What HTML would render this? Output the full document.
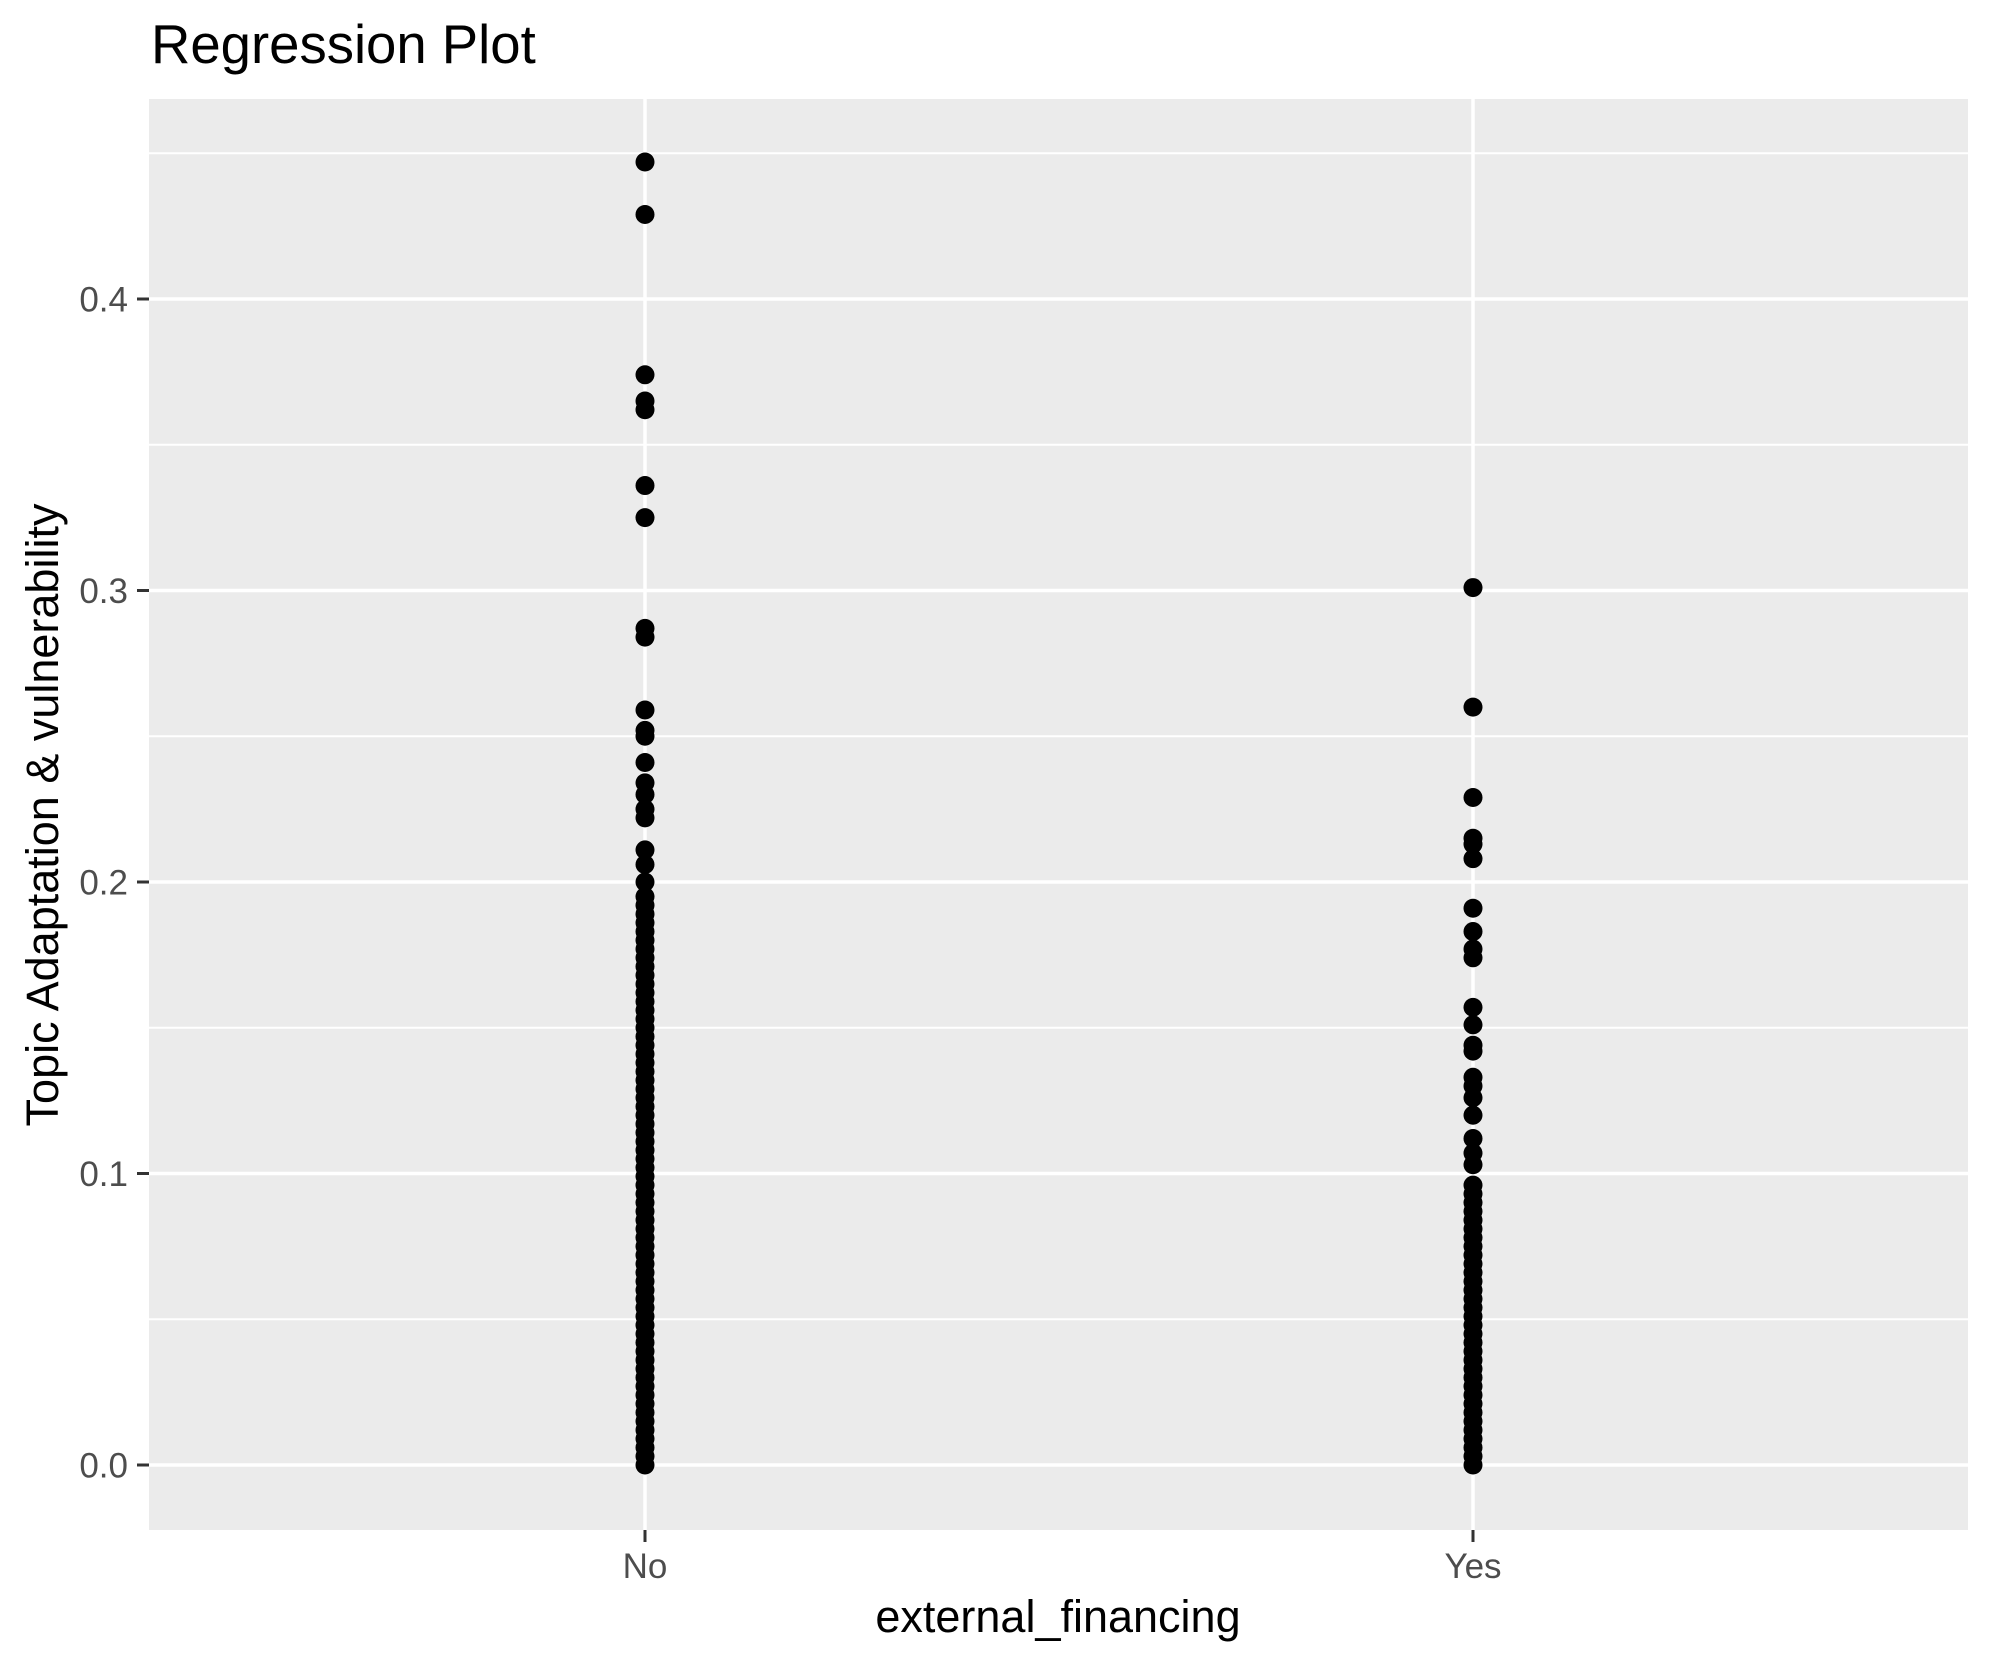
<!DOCTYPE html>
<html><head><meta charset="utf-8"><style>body{margin:0;background:#fff}svg{display:block}</style></head>
<body>
<svg id="s" width="1990" height="1665" xmlns="http://www.w3.org/2000/svg" font-family="Liberation Sans, sans-serif">
<rect x="0" y="0" width="1990" height="1665" fill="#fff"/>
<text x="151" y="63" font-size="54.5" fill="#000">Regression Plot</text>
<rect x="149" y="99" width="1819" height="1431" fill="#ebebeb"/>
<g stroke="#fff" stroke-width="2">
<line x1="149" x2="1968" y1="1319.25" y2="1319.25"/>
<line x1="149" x2="1968" y1="1027.75" y2="1027.75"/>
<line x1="149" x2="1968" y1="736.25" y2="736.25"/>
<line x1="149" x2="1968" y1="444.75" y2="444.75"/>
<line x1="149" x2="1968" y1="153.25" y2="153.25"/>
</g>
<g stroke="#fff" stroke-width="3.5">
<line x1="149" x2="1968" y1="1465" y2="1465"/>
<line x1="149" x2="1968" y1="1173.5" y2="1173.5"/>
<line x1="149" x2="1968" y1="882" y2="882"/>
<line x1="149" x2="1968" y1="590.5" y2="590.5"/>
<line x1="149" x2="1968" y1="299" y2="299"/>
<line x1="645" x2="645" y1="99" y2="1530"/>
<line x1="1473" x2="1473" y1="99" y2="1530"/>
</g>
<g stroke="#333" stroke-width="3">
<line x1="137" x2="149" y1="1465" y2="1465"/>
<line x1="137" x2="149" y1="1173.5" y2="1173.5"/>
<line x1="137" x2="149" y1="882" y2="882"/>
<line x1="137" x2="149" y1="590.5" y2="590.5"/>
<line x1="137" x2="149" y1="299" y2="299"/>
<line x1="645" x2="645" y1="1530" y2="1542"/>
<line x1="1473" x2="1473" y1="1530" y2="1542"/>
</g>
<g font-size="35" fill="#4d4d4d" text-anchor="end">
<text x="128" y="1477.5">0.0</text>
<text x="128" y="1186">0.1</text>
<text x="128" y="894.5">0.2</text>
<text x="128" y="603">0.3</text>
<text x="128" y="311.5">0.4</text>
</g>
<g font-size="35" fill="#4d4d4d" text-anchor="middle">
<text x="645" y="1578">No</text>
<text x="1473" y="1578">Yes</text>
</g>
<text x="1058" y="1632" font-size="45" text-anchor="middle" fill="#000">external_financing</text>
<text transform="translate(58,815) rotate(-90)" font-size="45" text-anchor="middle" fill="#000">Topic Adaptation &amp; vulnerability</text>
<g id="pts" fill="#000"></g>
</svg>
<script>
var g=document.getElementById('pts');
function y(v){return 1465-v*2915;}
function dot(x,v){var c=document.createElementNS('http://www.w3.org/2000/svg','circle');c.setAttribute('cx',x);c.setAttribute('cy',y(v));c.setAttribute('r',9.5);g.appendChild(c);}
var no=[0.447,0.429,0.374,0.365,0.362,0.336,0.325,0.287,0.284,0.259,0.252,0.250,0.241,0.234,0.230,0.225,0.222,0.211,0.206,0.200];
no.forEach(function(v){dot(645,v)});
for(var v=0;v<=0.198;v+=0.003)dot(645,v);
var yes=[0.301,0.260,0.229,0.215,0.213,0.208,0.191,0.183,0.177,0.174,0.157,0.151,0.144,0.142,0.133,0.130,0.126,0.120,0.112,0.107,0.103];
yes.forEach(function(v){dot(1473,v)});
for(var v=0;v<=0.098;v+=0.003)dot(1473,v);
</script>
</body></html>
